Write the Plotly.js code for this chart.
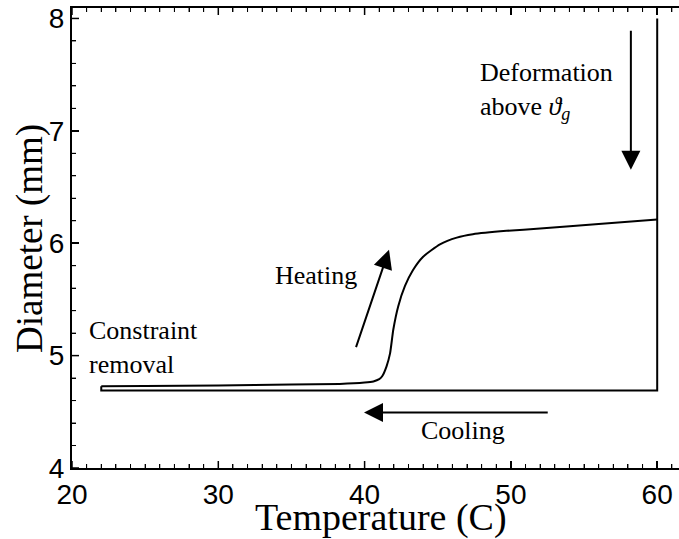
<!DOCTYPE html>
<html>
<head>
<meta charset="utf-8">
<script src="https://cdn.plot.ly/plotly-3.0.1.min.js"></script>
<style>html,body{margin:0;padding:0;background:#fff;}#chart{width:679px;height:539px;}</style>
</head>
<body>
<div id="chart"></div>
<script>
// Deformation at 60 C (top to bottom), then cooling, then constraint removal
const deformTemp = [60, 60];
const deformDiam = [8.0, 4.69];
const coolTemp = [22, 22];
const coolDiam = [4.69, 4.727];
// Heating curve after constraint removal
const heatTemp = [22, 25, 30, 35, 38.3, 40.0, 40.6, 41.0, 41.2, 41.5, 41.74, 41.96, 42.3, 42.76, 43.3, 44.0, 45.15, 46.3, 47.4, 49.7, 52.0, 56.0, 60.0];
const heatDiam = [4.727, 4.730, 4.735, 4.742, 4.748, 4.760, 4.770, 4.790, 4.816, 4.905, 5.02, 5.23, 5.44, 5.62, 5.76, 5.88, 5.99, 6.05, 6.08, 6.11, 6.13, 6.17, 6.21];

const xTicks = [20, 30, 40, 50, 60];
const yTicks = [4, 5, 6, 7, 8];
const xMinorStep = 1;
const yMinorStep = 0.2;
const xRange = [20, 61.49];
const yRange = [4, 8.093];

const W = 679, H = 539, M = {l: 72, r: 0, t: 8, b: 71};
const pxPerX = (W - M.l - M.r) / (xRange[1] - xRange[0]);
const pxPerY = (H - M.t - M.b) / (yRange[1] - yRange[0]);

const serif = "Liberation Serif, Times New Roman, serif";
const sans = "Liberation Sans, Arial, sans-serif";

// tick-mark segments (axis decoration), built from the tick arrays and axis scales
function xTickSegs(vals, len) {
  const xs = [], ys = [];
  const dy = len / pxPerY;
  vals.forEach(v => {
    xs.push(v, v, null, v, v, null);
    ys.push(yRange[0], yRange[0] + dy, null, yRange[1], yRange[1] - dy, null);
  });
  return {xs, ys};
}
function yTickSegs(vals, len) {
  const xs = [], ys = [];
  const dx = len / pxPerX;
  vals.forEach(v => { xs.push(xRange[0], xRange[0] + dx, null); ys.push(v, v, null); });
  return {xs, ys};
}
const xMinorVals = [], yMinorVals = [];
for (let i = 0; xRange[0] + i * xMinorStep <= xRange[1] + 1e-9; i++) {
  const r = Math.round((xRange[0] + i * xMinorStep) * 1000) / 1000; if (!xTicks.includes(r)) xMinorVals.push(r);
}
for (let i = 0; yRange[0] + i * yMinorStep <= yRange[1] + 1e-9; i++) {
  const r = Math.round((yRange[0] + i * yMinorStep) * 1000) / 1000; if (!yTicks.includes(r)) yMinorVals.push(r);
}
const xMaj = xTickSegs(xTicks, 7), xMin = xTickSegs(xMinorVals, 4);
const yMaj = yTickSegs(yTicks, 7), yMin = yTickSegs(yMinorVals, 4);

const base = {type: 'scatter', mode: 'lines', hoverinfo: 'skip', showlegend: false};
const traces = [
  Object.assign({}, base, {x: xMaj.xs.concat(yMaj.xs), y: xMaj.ys.concat(yMaj.ys), line: {color: 'black', width: 1.5}}),
  Object.assign({}, base, {x: xMin.xs.concat(yMin.xs), y: xMin.ys.concat(yMin.ys), line: {color: 'black', width: 1}}),
  Object.assign({}, base, {x: deformTemp.concat(coolTemp), y: deformDiam.concat(coolDiam), line: {color: 'black', width: 2}}),
  Object.assign({}, base, {x: heatTemp, y: heatDiam, line: {color: 'black', width: 2, shape: 'spline', smoothing: 0.5}})
];

const arrowStyle = {showarrow: true, arrowhead: 2, arrowsize: 1.9, arrowwidth: 2, arrowcolor: 'black',
  axref: 'x', ayref: 'y', xref: 'x', yref: 'y', text: ''};

const layout = {
  width: W, height: H,
  margin: M,
  font: {color: 'black'},
  xaxis: {
    range: xRange, tickvals: xTicks, ticktext: xTicks.map(String),
    ticks: 'inside', ticklen: 7, tickwidth: 1.5, tickcolor: 'black',
    minor: {dtick: xMinorStep, ticks: 'inside', ticklen: 4, tickwidth: 1, tickcolor: 'black'},
    showline: true, linecolor: 'black', linewidth: 2, mirror: 'ticks',
    showgrid: false, zeroline: false,
    tickfont: {family: sans, size: 28}
  },
  yaxis: {
    range: yRange, tickvals: yTicks, ticktext: yTicks.map(String),
    ticks: 'inside', ticklen: 7, tickwidth: 1.5, tickcolor: 'black',
    minor: {dtick: yMinorStep, ticks: 'inside', ticklen: 4, tickwidth: 1, tickcolor: 'black'},
    showline: true, linecolor: 'black', linewidth: 2,
    showgrid: false, zeroline: false,
    tickfont: {family: sans, size: 28}
  },
  annotations: [
    {x: 0.509, y: -0.108, xref: 'paper', yref: 'paper', xanchor: 'center', yanchor: 'middle', showarrow: false,
     text: 'Temperature (C)', font: {family: serif, size: 38}},
    {x: -0.068, y: 0.4995, xref: 'paper', yref: 'paper', xanchor: 'center', yanchor: 'middle', showarrow: false,
     textangle: -90, text: 'Diameter (mm)', font: {family: serif, size: 37}},
    Object.assign({}, arrowStyle, {x: 58.2, y: 6.653, ax: 58.2, ay: 7.904}),
    Object.assign({}, arrowStyle, {x: 41.67, y: 5.942, ax: 39.38, ay: 5.062}),
    Object.assign({}, arrowStyle, {x: 39.96, y: 4.493, ax: 52.62, ay: 4.493}),
    {x: 47.75, y: 7.67, xref: 'x', yref: 'y', xanchor: 'left', yanchor: 'top', align: 'left', showarrow: false,
     text: 'Deformation<br>above <i>ϑ</i><sub><i>g</i></sub>', font: {family: serif, size: 26}},
    {x: 21.0, y: 5.37, xref: 'x', yref: 'y', xanchor: 'left', yanchor: 'top', align: 'left', showarrow: false,
     text: 'Constraint<br>removal', font: {family: serif, size: 26}},
    {x: 36.68, y: 5.711, xref: 'x', yref: 'y', xanchor: 'center', yanchor: 'middle', showarrow: false,
     text: 'Heating', font: {family: serif, size: 26}},
    {x: 46.7, y: 4.333, xref: 'x', yref: 'y', xanchor: 'center', yanchor: 'middle', showarrow: false,
     text: 'Cooling', font: {family: serif, size: 26}}
  ]
};

Plotly.newPlot('chart', traces, layout, {displayModeBar: false, staticPlot: true});
</script>
</body>
</html>
